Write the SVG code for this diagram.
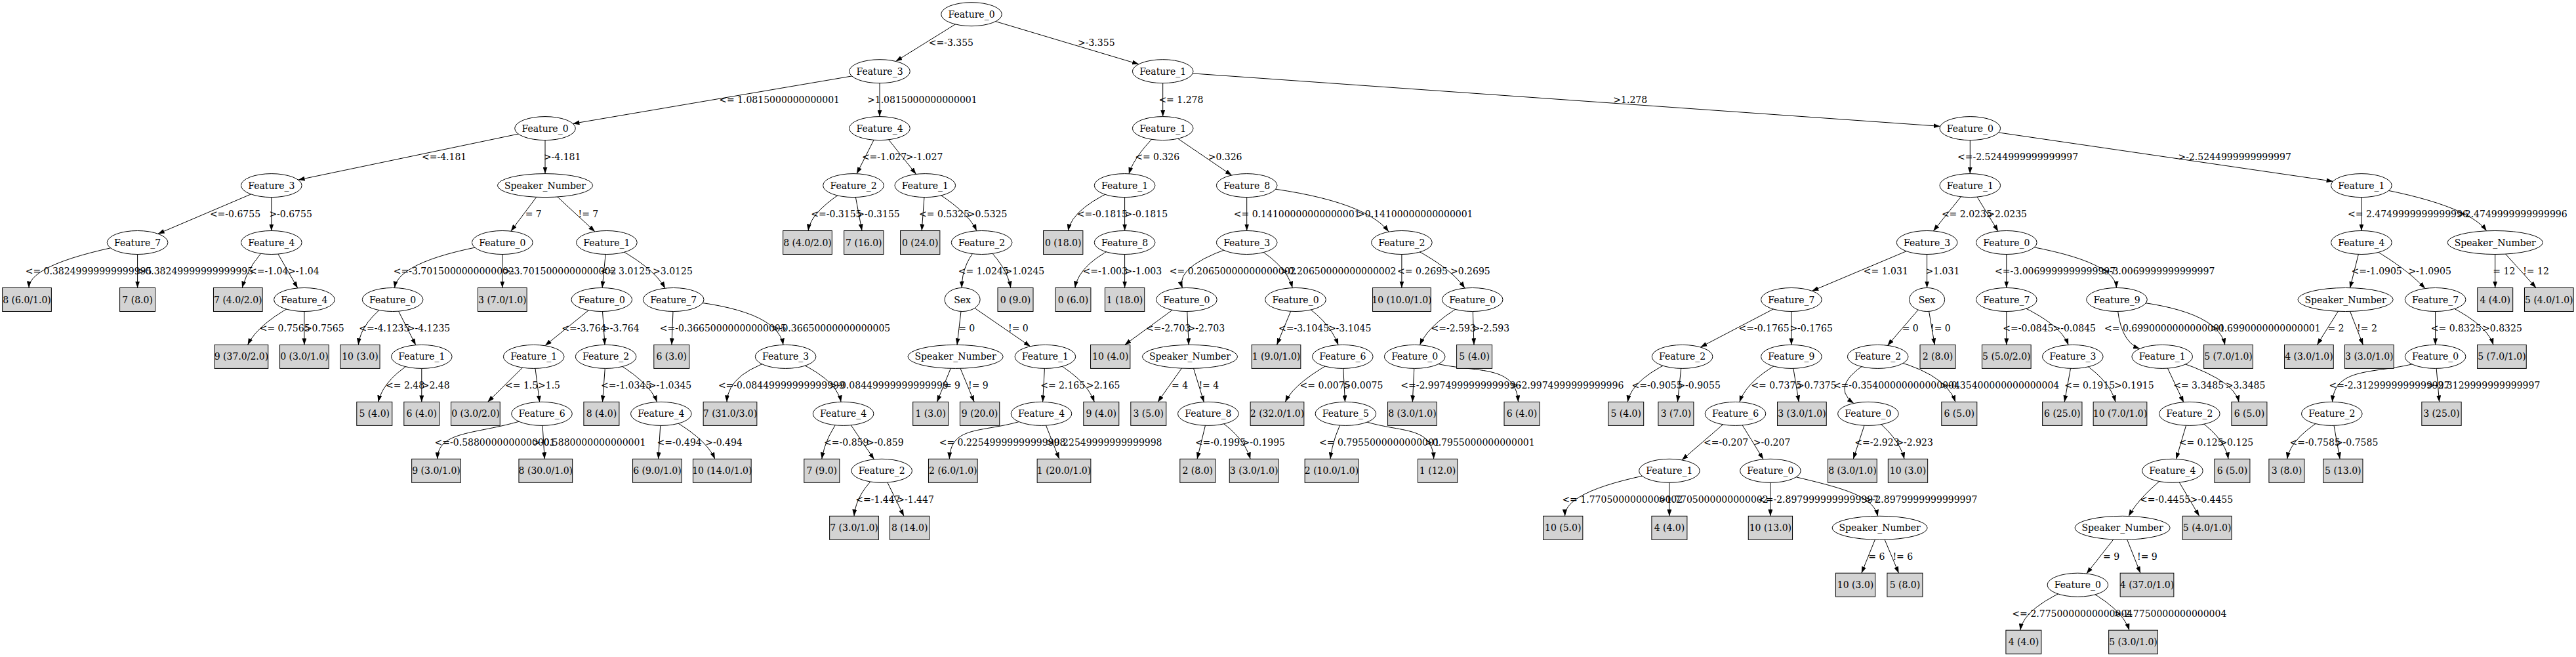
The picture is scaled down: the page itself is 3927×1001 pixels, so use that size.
<svg xmlns="http://www.w3.org/2000/svg" width="3927" height="1001" viewBox="0 0 3927 1001">
<style>
text{font-family:"DejaVu Serif","Liberation Serif",serif;font-size:14px;fill:#000}
.nd ellipse{fill:#fff;stroke:#000;stroke-width:1}
.lf rect{fill:#d3d3d3;stroke:#000;stroke-width:1}
.nd text,.lf text{text-anchor:middle}
#edges path{fill:none;stroke:#000;stroke-width:1;marker-end:url(#arr)}
</style>
<defs><marker id="arr" markerWidth="10" markerHeight="7" refX="10" refY="3.5" orient="auto" markerUnits="userSpaceOnUse"><path d="M0,0 L10,3.5 L0,7 z" fill="#000"/></marker></defs>
<rect width="3927" height="1001" fill="#fff"/>
<g id="edges">
<path d="M1481,21.7 L1365.5,93.4"/>
<path d="M1481,21.7 L1736,97.8"/>
<path d="M1341,108.7 L873.4,188.4"/>
<path d="M1341,108.7 L1341,177.6"/>
<path d="M1772.7,108.7 L1772.7,177.6"/>
<path d="M1772.7,108.7 L2957.7,192.4"/>
<path d="M831,195.6 L454.6,274.1"/>
<path d="M831,195.6 L831,264.6"/>
<path d="M1341,195.6 L1306,264.8"/>
<path d="M1341,195.6 L1396.6,265.4"/>
<path d="M1772.7,195.6 Q1730,235 1720.9,265"/>
<path d="M1772.7,195.6 L1877.7,267"/>
<path d="M3003.3,195.6 L3003.3,264.6"/>
<path d="M3003.3,195.6 L3556.6,276.3"/>
<path d="M413.8,282.6 L240.8,356.2"/>
<path d="M413.8,282.6 L413.8,351.5"/>
<path d="M831,282.6 L778.8,352.2"/>
<path d="M831,282.6 L907,352.9"/>
<path d="M1301,282.6 Q1236,320 1232.1,351.5"/>
<path d="M1301,282.6 L1314,351.5"/>
<path d="M1410.3,282.6 L1405.2,351.5"/>
<path d="M1410.3,282.6 Q1475,320 1488.8,351.7"/>
<path d="M1714.6,282.6 Q1635,315 1628.3,351.5"/>
<path d="M1714.6,282.6 L1714.6,351.5"/>
<path d="M1900.7,282.6 L1900.7,351.5"/>
<path d="M1900.7,282.6 Q2078,302 2117,353"/>
<path d="M3003.3,282.6 L2947.2,352"/>
<path d="M3003.3,282.6 L3046.2,352.5"/>
<path d="M3599.9,282.6 L3599.9,351.5"/>
<path d="M3599.9,282.6 Q3760,310 3790.7,351.8"/>
<path d="M209.6,369.5 Q45,400 44,438.5"/>
<path d="M209.6,369.5 L209.6,438.5"/>
<path d="M413.8,369.5 Q380,400 369.1,438.5"/>
<path d="M413.8,369.5 L453.8,438.9"/>
<path d="M765.8,369.5 Q608,395 601.5,438.6"/>
<path d="M765.8,369.5 L765.8,438.5"/>
<path d="M924.9,369.5 L918.1,438.5"/>
<path d="M924.9,369.5 Q995,405 1014,439.2"/>
<path d="M1496.6,369.5 Q1466,400 1466.2,438.5"/>
<path d="M1496.6,369.5 Q1535,405 1540.8,438.5"/>
<path d="M1714.6,369.5 Q1645,400 1638.8,438.5"/>
<path d="M1714.6,369.5 L1714.6,438.5"/>
<path d="M1900.7,369.5 Q1790,402 1802.4,438.7"/>
<path d="M1900.7,369.5 Q1960,400 1970.3,438.6"/>
<path d="M2136.9,369.5 L2136.9,438.5"/>
<path d="M2136.9,369.5 Q2210,405 2233,439.1"/>
<path d="M2937.6,369.5 L2762.3,443.3"/>
<path d="M2937.6,369.5 L2937.6,438.5"/>
<path d="M3058.8,369.5 L3058.8,438.5"/>
<path d="M3058.8,369.5 Q3225,395 3226.4,438.5"/>
<path d="M3599.9,369.5 L3582.4,439"/>
<path d="M3599.9,369.5 Q3665,405 3696.9,439.5"/>
<path d="M3803.7,369.5 L3803.7,438.5"/>
<path d="M3803.7,369.5 L3866.2,438.5"/>
<path d="M463.9,456.5 Q395,490 377.6,525.4"/>
<path d="M463.9,456.5 L463.9,525.4"/>
<path d="M598.6,456.5 Q550,490 546.3,525.4"/>
<path d="M598.6,456.5 L633.8,525.8"/>
<path d="M917.3,456.5 L831,526.5"/>
<path d="M917.3,456.5 L922,525.4"/>
<path d="M1026.7,456.5 L1024,525.4"/>
<path d="M1026.7,456.5 Q1185,470 1194,525.5"/>
<path d="M1467.1,456.5 L1459,525.4"/>
<path d="M1467.1,456.5 L1570.7,527.8"/>
<path d="M1808.9,456.5 L1714.6,525.4"/>
<path d="M1808.9,456.5 L1812.2,525.4"/>
<path d="M1975,456.5 L1946.5,525.4"/>
<path d="M1975,456.5 Q2025,485 2040.2,525.6"/>
<path d="M2244.7,456.5 Q2180,490 2164.5,525.6"/>
<path d="M2244.7,456.5 L2247,525.4"/>
<path d="M2730.9,456.5 L2592.3,528.9"/>
<path d="M2730.9,456.5 L2730.9,525.4"/>
<path d="M2937.6,456.5 L2877.4,526.4"/>
<path d="M2937.6,456.5 L2949.3,525.4"/>
<path d="M3058.8,456.5 L3058.8,525.4"/>
<path d="M3058.8,456.5 Q3140,490 3153.2,525.6"/>
<path d="M3227,456.5 Q3230,520 3262,531.3"/>
<path d="M3227,456.5 Q3380,470 3391.9,525.4"/>
<path d="M3575.6,456.5 L3532.3,525.4"/>
<path d="M3575.6,456.5 L3602.4,525.4"/>
<path d="M3712.6,456.5 L3712.6,525.4"/>
<path d="M3712.6,456.5 Q3790,490 3801,525.4"/>
<path d="M642.8,543.4 Q585,575 576.6,612.4"/>
<path d="M642.8,543.4 L642.8,612.4"/>
<path d="M813.7,543.4 L743.4,612.4"/>
<path d="M813.7,543.4 L822.6,612.8"/>
<path d="M923.6,543.4 L918.5,612.4"/>
<path d="M923.6,543.4 Q990,580 1001.5,612.6"/>
<path d="M1197.6,543.4 Q1110,565 1108,612.4"/>
<path d="M1197.6,543.4 Q1275,575 1282.1,612.4"/>
<path d="M1456.6,543.4 L1428.4,612.4"/>
<path d="M1456.6,543.4 L1485.2,612.4"/>
<path d="M1593.4,543.4 L1589.6,612.4"/>
<path d="M1593.4,543.4 Q1655,575 1668.3,612.4"/>
<path d="M1814,543.4 L1765,612.4"/>
<path d="M1814,543.4 L1835.4,612.8"/>
<path d="M2046.8,543.4 Q1975,580 1959.3,612.4"/>
<path d="M2046.8,543.4 L2050.5,612.4"/>
<path d="M2156.7,543.4 L2153.3,612.4"/>
<path d="M2156.7,543.4 C2230,575 2310,545 2314.5,612.4"/>
<path d="M2564.6,543.4 Q2488,575 2481.2,612.4"/>
<path d="M2564.6,543.4 L2557.4,612.4"/>
<path d="M2730.9,543.4 Q2665,575 2651.8,612.6"/>
<path d="M2730.9,543.4 L2742.3,612.4"/>
<path d="M2862.7,543.4 Q2785,585 2825.9,614.5"/>
<path d="M2862.7,543.4 Q2965,565 2980.9,612.4"/>
<path d="M3159.8,543.4 L3147.2,612.4"/>
<path d="M3159.8,543.4 Q3215,575 3225,612.4"/>
<path d="M3296.2,543.4 L3329,613.3"/>
<path d="M3296.2,543.4 Q3405,575 3413.1,612.4"/>
<path d="M3712.6,543.4 C3640,575 3560,550 3555.5,612.4"/>
<path d="M3712.6,543.4 L3718.6,612.4"/>
<path d="M826,630.4 C740,665 668,650 666.8,699.3"/>
<path d="M826,630.4 L830.2,699.3"/>
<path d="M1007.8,630.4 L1003.6,699.3"/>
<path d="M1007.8,630.4 Q1075,665 1089.9,699.3"/>
<path d="M1285.6,630.4 Q1258,665 1252.8,699.3"/>
<path d="M1285.6,630.4 L1332.5,699.9"/>
<path d="M1587.5,630.4 C1510,665 1450,640 1447.3,699.3"/>
<path d="M1587.5,630.4 L1614.8,699.3"/>
<path d="M1841.8,630.4 L1825,699.3"/>
<path d="M1841.8,630.4 Q1895,660 1906.1,699.3"/>
<path d="M2051.4,630.4 Q2032,665 2028,699.3"/>
<path d="M2051.4,630.4 C2120,665 2183,640 2185.7,699.3"/>
<path d="M2645.5,630.4 L2563.9,700.9"/>
<path d="M2645.5,630.4 L2688.1,699.8"/>
<path d="M2847.9,630.4 L2825.2,699.3"/>
<path d="M2847.9,630.4 Q2895,665 2903,699.3"/>
<path d="M3337.8,630.4 L3317.4,699.6"/>
<path d="M3337.8,630.4 Q3392,665 3397,699.3"/>
<path d="M3554.8,630.4 Q3492,665 3486.7,699.3"/>
<path d="M3554.8,630.4 L3567.1,699.3"/>
<path d="M1344.2,717.3 Q1305,750 1302,786.3"/>
<path d="M1344.2,717.3 L1378,786.3"/>
<path d="M2544.9,717.3 Q2385,745 2385.6,786.3"/>
<path d="M2544.9,717.3 L2544.9,786.3"/>
<path d="M2698.9,717.3 L2698.9,786.3"/>
<path d="M2698.9,717.3 C2790,740 2855,750 2862.6,786.5"/>
<path d="M3311.9,717.3 Q3262,755 3245.1,786.5"/>
<path d="M3311.9,717.3 L3352.7,786.3"/>
<path d="M2865.6,804.3 L2837.8,873.2"/>
<path d="M2865.6,804.3 L2894.6,873.2"/>
<path d="M3235.6,804.3 L3180.9,874"/>
<path d="M3235.6,804.3 L3263,873.2"/>
<path d="M3167.4,891.2 Q3085,925 3079.8,960.2"/>
<path d="M3167.4,891.2 Q3235,925 3246,960.2"/>
</g>
<g id="edge-labels">
<text x="1415.7" y="70.2">&lt;=-3.355</text>
<text x="1643" y="70.2">&gt;-3.355</text>
<text x="1096.2" y="157.2">&lt;= 1.0815000000000001</text>
<text x="1322" y="157.2">&gt;1.0815000000000001</text>
<text x="1766.4" y="157.2">&lt;= 1.278</text>
<text x="2459.3" y="157.2">&gt;1.278</text>
<text x="643" y="244.1">&lt;=-4.181</text>
<text x="828.9" y="244.1">&gt;-4.181</text>
<text x="1313.9" y="244.1">&lt;=-1.027</text>
<text x="1380.8" y="244.1">&gt;-1.027</text>
<text x="1730.2" y="244.1">&lt;= 0.326</text>
<text x="1841.7" y="244.1">&gt;0.326</text>
<text x="2984" y="244.1">&lt;=-2.5244999999999997</text>
<text x="3320.5" y="244.1">&gt;-2.5244999999999997</text>
<text x="319.9" y="331.1">&lt;=-0.6755</text>
<text x="410.4" y="331.1">&gt;-0.6755</text>
<text x="800.7" y="331.1">= 7</text>
<text x="881.5" y="331.1">!= 7</text>
<text x="1236.3" y="331.1">&lt;=-0.3155</text>
<text x="1306.3" y="331.1">&gt;-0.3155</text>
<text x="1401" y="331.1">&lt;= 0.5325</text>
<text x="1474.7" y="331.1">&gt;0.5325</text>
<text x="1641.8" y="331.1">&lt;=-0.1815</text>
<text x="1714.6" y="331.1">&gt;-0.1815</text>
<text x="1880.8" y="331.1">&lt;= 0.14100000000000001</text>
<text x="2069" y="331.1">&gt;0.14100000000000001</text>
<text x="2959.9" y="331.1">&lt;= 2.0235</text>
<text x="3029.3" y="331.1">&gt;2.0235</text>
<text x="3579" y="331.1">&lt;= 2.4749999999999996</text>
<text x="3746" y="331.1">&gt;2.4749999999999996</text>
<text x="38.7" y="418">&lt;= 0.38249999999999995</text>
<text x="209.6" y="418">&gt;0.38249999999999995</text>
<text x="380" y="418">&lt;=-1.04</text>
<text x="439" y="418">&gt;-1.04</text>
<text x="599.8" y="418">&lt;=-3.7015000000000002</text>
<text x="767" y="418">&gt;-3.7015000000000002</text>
<text x="915.2" y="418">&lt;= 3.0125</text>
<text x="995.1" y="418">&gt;3.0125</text>
<text x="1460.8" y="418">&lt;= 1.0245</text>
<text x="1531.5" y="418">&gt;1.0245</text>
<text x="1650.6" y="418">&lt;=-1.003</text>
<text x="1714.6" y="418">&gt;-1.003</text>
<text x="1782.8" y="418">&lt;= 0.20650000000000002</text>
<text x="1952" y="418">&gt;0.20650000000000002</text>
<text x="2130.1" y="418">&lt;= 0.2695</text>
<text x="2211" y="418">&gt;0.2695</text>
<text x="2840.8" y="418">&lt;= 1.031</text>
<text x="2935.5" y="418">&gt;1.031</text>
<text x="3041.1" y="418">&lt;=-3.0069999999999997</text>
<text x="3204" y="418">&gt;-3.0069999999999997</text>
<text x="3584.6" y="418">&lt;=-1.0905</text>
<text x="3671.4" y="418">&gt;-1.0905</text>
<text x="3800.3" y="418">= 12</text>
<text x="3846.2" y="418">!= 12</text>
<text x="395.7" y="505">&lt;= 0.7565</text>
<text x="463.9" y="505">&gt;0.7565</text>
<text x="547.2" y="505">&lt;=-4.1235</text>
<text x="620.8" y="505">&gt;-4.1235</text>
<text x="856.2" y="505">&lt;=-3.764</text>
<text x="918.1" y="505">&gt;-3.764</text>
<text x="1005.7" y="505">&lt;=-0.36650000000000005</text>
<text x="1176" y="505">&gt;-0.36650000000000005</text>
<text x="1461.2" y="505">= 0</text>
<text x="1537" y="505">!= 0</text>
<text x="1747" y="505">&lt;=-2.703</text>
<text x="1810.6" y="505">&gt;-2.703</text>
<text x="1949" y="505">&lt;=-3.1045</text>
<text x="2024.9" y="505">&gt;-3.1045</text>
<text x="2181.5" y="505">&lt;=-2.593</text>
<text x="2244.6" y="505">&gt;-2.593</text>
<text x="2650.5" y="505">&lt;=-0.1765</text>
<text x="2728.4" y="505">&gt;-0.1765</text>
<text x="2899.7" y="505">= 0</text>
<text x="2943" y="505">!= 0</text>
<text x="3053.3" y="505">&lt;=-0.0845</text>
<text x="3129.5" y="505">&gt;-0.0845</text>
<text x="3208" y="505">&lt;= 0.6990000000000001</text>
<text x="3370" y="505">&gt;0.6990000000000001</text>
<text x="3548.4" y="505">= 2</text>
<text x="3593.1" y="505">!= 2</text>
<text x="3705.8" y="505">&lt;= 0.8325</text>
<text x="3784.1" y="505">&gt;0.8325</text>
<text x="588" y="591.9">&lt;= 2.48</text>
<text x="642.7" y="591.9">&gt;2.48</text>
<text x="770" y="591.9">&lt;= 1.5</text>
<text x="820" y="591.9">&gt;1.5</text>
<text x="916" y="591.9">&lt;=-1.0345</text>
<text x="988.8" y="591.9">&gt;-1.0345</text>
<text x="1094.9" y="591.9">&lt;=-0.08449999999999999</text>
<text x="1264.5" y="591.9">&gt;-0.08449999999999999</text>
<text x="1438.9" y="591.9">= 9</text>
<text x="1476" y="591.9">!= 9</text>
<text x="1586.2" y="591.9">&lt;= 2.165</text>
<text x="1655.7" y="591.9">&gt;2.165</text>
<text x="1786.1" y="591.9">= 4</text>
<text x="1827.4" y="591.9">!= 4</text>
<text x="1981.6" y="591.9">&lt;= 0.0075</text>
<text x="2047.7" y="591.9">&gt;0.0075</text>
<text x="2135.2" y="591.9">&lt;=-2.9974999999999996</text>
<text x="2303" y="591.9">&gt;-2.9974999999999996</text>
<text x="2487.5" y="591.9">&lt;=-0.9055</text>
<text x="2557.4" y="591.9">&gt;-0.9055</text>
<text x="2669.4" y="591.9">&lt;= 0.7375</text>
<text x="2738.9" y="591.9">&gt;0.7375</text>
<text x="2794.9" y="591.9">&lt;=-0.35400000000000004</text>
<text x="2958" y="591.9">&gt;-0.35400000000000004</text>
<text x="3147.2" y="591.9">&lt;= 0.1915</text>
<text x="3222.9" y="591.9">&gt;0.1915</text>
<text x="3313.2" y="591.9">&lt;= 3.3485</text>
<text x="3392.7" y="591.9">&gt;3.3485</text>
<text x="3550.5" y="591.9">&lt;=-2.3129999999999997</text>
<text x="3700" y="591.9">&gt;-2.3129999999999997</text>
<text x="662.6" y="678.9">&lt;=-0.5880000000000001</text>
<text x="812" y="678.9">&gt;-0.5880000000000001</text>
<text x="1001.5" y="678.9">&lt;=-0.494</text>
<text x="1075.2" y="678.9">&gt;-0.494</text>
<text x="1256.1" y="678.9">&lt;=-0.859</text>
<text x="1321" y="678.9">&gt;-0.859</text>
<text x="1431.7" y="678.9">&lt;= 0.22549999999999998</text>
<text x="1595" y="678.9">&gt;0.22549999999999998</text>
<text x="1821.9" y="678.9">&lt;=-0.1995</text>
<text x="1893.5" y="678.9">&gt;-0.1995</text>
<text x="2011" y="678.9">&lt;= 0.7955000000000001</text>
<text x="2172" y="678.9">&gt;0.7955000000000001</text>
<text x="2597" y="678.9">&lt;=-0.207</text>
<text x="2672.8" y="678.9">&gt;-0.207</text>
<text x="2827.3" y="678.9">&lt;=-2.923</text>
<text x="2890.4" y="678.9">&gt;-2.923</text>
<text x="3321.7" y="678.9">&lt;= 0.125</text>
<text x="3383.4" y="678.9">&gt;0.125</text>
<text x="3490.6" y="678.9">&lt;=-0.7585</text>
<text x="3559.9" y="678.9">&gt;-0.7585</text>
<text x="1304.2" y="765.8">&lt;=-1.447</text>
<text x="1367.3" y="765.8">&gt;-1.447</text>
<text x="2381.4" y="765.8">&lt;= 1.7705000000000002</text>
<text x="2528" y="765.8">&gt;1.7705000000000002</text>
<text x="2680" y="765.8">&lt;=-2.8979999999999997</text>
<text x="2842" y="765.8">&gt;-2.8979999999999997</text>
<text x="3262.1" y="765.8">&lt;=-0.4455</text>
<text x="3338.7" y="765.8">&gt;-0.4455</text>
<text x="2848.3" y="852.8">= 6</text>
<text x="2885.4" y="852.8">!= 6</text>
<text x="3206.1" y="852.8">= 9</text>
<text x="3258" y="852.8">!= 9</text>
<text x="3067.2" y="939.7">&lt;=-2.7750000000000004</text>
<text x="3222" y="939.7">&gt;-2.7750000000000004</text>
</g>
<g id="nodes">
<g id="n0" class="nd"><ellipse cx="1481" cy="21.7" rx="46.3" ry="18"/><text x="1481" y="26.7">Feature_0</text></g>
<g id="n1" class="nd"><ellipse cx="1341" cy="108.7" rx="46.3" ry="18"/><text x="1341" y="113.7">Feature_3</text></g>
<g id="n2" class="nd"><ellipse cx="1772.7" cy="108.7" rx="46.3" ry="18"/><text x="1772.7" y="113.7">Feature_1</text></g>
<g id="n3" class="nd"><ellipse cx="831" cy="195.6" rx="46.3" ry="18"/><text x="831" y="200.6">Feature_0</text></g>
<g id="n4" class="nd"><ellipse cx="1341" cy="195.6" rx="46.3" ry="18"/><text x="1341" y="200.6">Feature_4</text></g>
<g id="n5" class="nd"><ellipse cx="1772.7" cy="195.6" rx="46.3" ry="18"/><text x="1772.7" y="200.6">Feature_1</text></g>
<g id="n6" class="nd"><ellipse cx="3003.3" cy="195.6" rx="46.3" ry="18"/><text x="3003.3" y="200.6">Feature_0</text></g>
<g id="n7" class="nd"><ellipse cx="413.8" cy="282.6" rx="46.3" ry="18"/><text x="413.8" y="287.6">Feature_3</text></g>
<g id="n8" class="nd"><ellipse cx="831" cy="282.6" rx="72.6" ry="18"/><text x="831" y="287.6">Speaker_Number</text></g>
<g id="n9" class="nd"><ellipse cx="1301" cy="282.6" rx="46.3" ry="18"/><text x="1301" y="287.6">Feature_2</text></g>
<g id="n10" class="nd"><ellipse cx="1410.3" cy="282.6" rx="46.3" ry="18"/><text x="1410.3" y="287.6">Feature_1</text></g>
<g id="n11" class="nd"><ellipse cx="1714.6" cy="282.6" rx="46.3" ry="18"/><text x="1714.6" y="287.6">Feature_1</text></g>
<g id="n12" class="nd"><ellipse cx="1900.7" cy="282.6" rx="46.3" ry="18"/><text x="1900.7" y="287.6">Feature_8</text></g>
<g id="n13" class="nd"><ellipse cx="3003.3" cy="282.6" rx="46.3" ry="18"/><text x="3003.3" y="287.6">Feature_1</text></g>
<g id="n14" class="nd"><ellipse cx="3599.9" cy="282.6" rx="46.3" ry="18"/><text x="3599.9" y="287.6">Feature_1</text></g>
<g id="n15" class="nd"><ellipse cx="209.6" cy="369.5" rx="46.3" ry="18"/><text x="209.6" y="374.5">Feature_7</text></g>
<g id="n16" class="nd"><ellipse cx="413.8" cy="369.5" rx="46.3" ry="18"/><text x="413.8" y="374.5">Feature_4</text></g>
<g id="n17" class="nd"><ellipse cx="765.8" cy="369.5" rx="46.3" ry="18"/><text x="765.8" y="374.5">Feature_0</text></g>
<g id="n18" class="nd"><ellipse cx="924.9" cy="369.5" rx="46.3" ry="18"/><text x="924.9" y="374.5">Feature_1</text></g>
<g id="n19" class="lf"><rect x="1193.65" y="351.5" width="74.7" height="36"/><text x="1231" y="374.5">8 (4.0/2.0)</text></g>
<g id="n20" class="lf"><rect x="1286.65" y="351.5" width="60.3" height="36"/><text x="1316.8" y="374.5">7 (16.0)</text></g>
<g id="n21" class="lf"><rect x="1372.55" y="351.5" width="60.3" height="36"/><text x="1402.7" y="374.5">0 (24.0)</text></g>
<g id="n22" class="nd"><ellipse cx="1496.6" cy="369.5" rx="46.3" ry="18"/><text x="1496.6" y="374.5">Feature_2</text></g>
<g id="n23" class="lf"><rect x="1590.55" y="351.5" width="60.3" height="36"/><text x="1620.7" y="374.5">0 (18.0)</text></g>
<g id="n24" class="nd"><ellipse cx="1714.6" cy="369.5" rx="46.3" ry="18"/><text x="1714.6" y="374.5">Feature_8</text></g>
<g id="n25" class="nd"><ellipse cx="1900.7" cy="369.5" rx="46.3" ry="18"/><text x="1900.7" y="374.5">Feature_3</text></g>
<g id="n26" class="nd"><ellipse cx="2136.9" cy="369.5" rx="46.3" ry="18"/><text x="2136.9" y="374.5">Feature_2</text></g>
<g id="n27" class="nd"><ellipse cx="2937.6" cy="369.5" rx="46.3" ry="18"/><text x="2937.6" y="374.5">Feature_3</text></g>
<g id="n28" class="nd"><ellipse cx="3058.8" cy="369.5" rx="46.3" ry="18"/><text x="3058.8" y="374.5">Feature_0</text></g>
<g id="n29" class="nd"><ellipse cx="3599.9" cy="369.5" rx="46.3" ry="18"/><text x="3599.9" y="374.5">Feature_4</text></g>
<g id="n30" class="nd"><ellipse cx="3803.7" cy="369.5" rx="72.6" ry="18"/><text x="3803.7" y="374.5">Speaker_Number</text></g>
<g id="n31" class="lf"><rect x="3.65" y="438.5" width="74.7" height="36"/><text x="41" y="461.5">8 (6.0/1.0)</text></g>
<g id="n32" class="lf"><rect x="182.6" y="438.5" width="54" height="36"/><text x="209.6" y="461.5">7 (8.0)</text></g>
<g id="n33" class="lf"><rect x="325.45" y="438.5" width="74.7" height="36"/><text x="362.8" y="461.5">7 (4.0/2.0)</text></g>
<g id="n34" class="nd"><ellipse cx="463.9" cy="456.5" rx="46.3" ry="18"/><text x="463.9" y="461.5">Feature_4</text></g>
<g id="n35" class="nd"><ellipse cx="598.6" cy="456.5" rx="46.3" ry="18"/><text x="598.6" y="461.5">Feature_0</text></g>
<g id="n36" class="lf"><rect x="728.45" y="438.5" width="74.7" height="36"/><text x="765.8" y="461.5">3 (7.0/1.0)</text></g>
<g id="n37" class="nd"><ellipse cx="917.3" cy="456.5" rx="46.3" ry="18"/><text x="917.3" y="461.5">Feature_0</text></g>
<g id="n38" class="nd"><ellipse cx="1026.7" cy="456.5" rx="46.3" ry="18"/><text x="1026.7" y="461.5">Feature_7</text></g>
<g id="n39" class="nd"><ellipse cx="1467.1" cy="456.5" rx="27" ry="18"/><text x="1467.1" y="461.5">Sex</text></g>
<g id="n40" class="lf"><rect x="1521" y="438.5" width="54" height="36"/><text x="1548" y="461.5">0 (9.0)</text></g>
<g id="n41" class="lf"><rect x="1608.9" y="438.5" width="54" height="36"/><text x="1635.9" y="461.5">0 (6.0)</text></g>
<g id="n42" class="lf"><rect x="1684.45" y="438.5" width="60.3" height="36"/><text x="1714.6" y="461.5">1 (18.0)</text></g>
<g id="n43" class="nd"><ellipse cx="1808.9" cy="456.5" rx="46.3" ry="18"/><text x="1808.9" y="461.5">Feature_0</text></g>
<g id="n44" class="nd"><ellipse cx="1975" cy="456.5" rx="46.3" ry="18"/><text x="1975" y="461.5">Feature_0</text></g>
<g id="n45" class="lf"><rect x="2092.55" y="438.5" width="88.7" height="36"/><text x="2136.9" y="461.5">10 (10.0/1.0)</text></g>
<g id="n46" class="nd"><ellipse cx="2244.7" cy="456.5" rx="46.3" ry="18"/><text x="2244.7" y="461.5">Feature_0</text></g>
<g id="n47" class="nd"><ellipse cx="2730.9" cy="456.5" rx="46.3" ry="18"/><text x="2730.9" y="461.5">Feature_7</text></g>
<g id="n48" class="nd"><ellipse cx="2937.6" cy="456.5" rx="27" ry="18"/><text x="2937.6" y="461.5">Sex</text></g>
<g id="n49" class="nd"><ellipse cx="3058.8" cy="456.5" rx="46.3" ry="18"/><text x="3058.8" y="461.5">Feature_7</text></g>
<g id="n50" class="nd"><ellipse cx="3227" cy="456.5" rx="46.3" ry="18"/><text x="3227" y="461.5">Feature_9</text></g>
<g id="n51" class="nd"><ellipse cx="3575.6" cy="456.5" rx="72.6" ry="18"/><text x="3575.6" y="461.5">Speaker_Number</text></g>
<g id="n52" class="nd"><ellipse cx="3712.6" cy="456.5" rx="46.3" ry="18"/><text x="3712.6" y="461.5">Feature_7</text></g>
<g id="n53" class="lf"><rect x="3776.7" y="438.5" width="54" height="36"/><text x="3803.7" y="461.5">4 (4.0)</text></g>
<g id="n54" class="lf"><rect x="3848.45" y="438.5" width="74.7" height="36"/><text x="3885.8" y="461.5">5 (4.0/1.0)</text></g>
<g id="n55" class="lf"><rect x="327.05" y="525.4" width="81.7" height="36"/><text x="367.9" y="548.4">9 (37.0/2.0)</text></g>
<g id="n56" class="lf"><rect x="426.55" y="525.4" width="74.7" height="36"/><text x="463.9" y="548.4">0 (3.0/1.0)</text></g>
<g id="n57" class="lf"><rect x="518.75" y="525.4" width="60.3" height="36"/><text x="548.9" y="548.4">10 (3.0)</text></g>
<g id="n58" class="nd"><ellipse cx="642.8" cy="543.4" rx="46.3" ry="18"/><text x="642.8" y="548.4">Feature_1</text></g>
<g id="n59" class="nd"><ellipse cx="813.7" cy="543.4" rx="46.3" ry="18"/><text x="813.7" y="548.4">Feature_1</text></g>
<g id="n60" class="nd"><ellipse cx="923.6" cy="543.4" rx="46.3" ry="18"/><text x="923.6" y="548.4">Feature_2</text></g>
<g id="n61" class="lf"><rect x="996.8" y="525.4" width="54" height="36"/><text x="1023.8" y="548.4">6 (3.0)</text></g>
<g id="n62" class="nd"><ellipse cx="1197.6" cy="543.4" rx="46.3" ry="18"/><text x="1197.6" y="548.4">Feature_3</text></g>
<g id="n63" class="nd"><ellipse cx="1456.6" cy="543.4" rx="72.6" ry="18"/><text x="1456.6" y="548.4">Speaker_Number</text></g>
<g id="n64" class="nd"><ellipse cx="1593.4" cy="543.4" rx="46.3" ry="18"/><text x="1593.4" y="548.4">Feature_1</text></g>
<g id="n65" class="lf"><rect x="1662.55" y="525.4" width="60.3" height="36"/><text x="1692.7" y="548.4">10 (4.0)</text></g>
<g id="n66" class="nd"><ellipse cx="1814" cy="543.4" rx="72.6" ry="18"/><text x="1814" y="548.4">Speaker_Number</text></g>
<g id="n67" class="lf"><rect x="1908.15" y="525.4" width="74.7" height="36"/><text x="1945.5" y="548.4">1 (9.0/1.0)</text></g>
<g id="n68" class="nd"><ellipse cx="2046.8" cy="543.4" rx="46.3" ry="18"/><text x="2046.8" y="548.4">Feature_6</text></g>
<g id="n69" class="nd"><ellipse cx="2156.7" cy="543.4" rx="46.3" ry="18"/><text x="2156.7" y="548.4">Feature_0</text></g>
<g id="n70" class="lf"><rect x="2220.6" y="525.4" width="54" height="36"/><text x="2247.6" y="548.4">5 (4.0)</text></g>
<g id="n71" class="nd"><ellipse cx="2564.6" cy="543.4" rx="46.3" ry="18"/><text x="2564.6" y="548.4">Feature_2</text></g>
<g id="n72" class="nd"><ellipse cx="2730.9" cy="543.4" rx="46.3" ry="18"/><text x="2730.9" y="548.4">Feature_9</text></g>
<g id="n73" class="nd"><ellipse cx="2862.7" cy="543.4" rx="46.3" ry="18"/><text x="2862.7" y="548.4">Feature_2</text></g>
<g id="n74" class="lf"><rect x="2927" y="525.4" width="54" height="36"/><text x="2954" y="548.4">2 (8.0)</text></g>
<g id="n75" class="lf"><rect x="3021.45" y="525.4" width="74.7" height="36"/><text x="3058.8" y="548.4">5 (5.0/2.0)</text></g>
<g id="n76" class="nd"><ellipse cx="3159.8" cy="543.4" rx="46.3" ry="18"/><text x="3159.8" y="548.4">Feature_3</text></g>
<g id="n77" class="nd"><ellipse cx="3296.2" cy="543.4" rx="46.3" ry="18"/><text x="3296.2" y="548.4">Feature_1</text></g>
<g id="n78" class="lf"><rect x="3359.65" y="525.4" width="74.7" height="36"/><text x="3397" y="548.4">5 (7.0/1.0)</text></g>
<g id="n79" class="lf"><rect x="3482.55" y="525.4" width="74.7" height="36"/><text x="3519.9" y="548.4">4 (3.0/1.0)</text></g>
<g id="n80" class="lf"><rect x="3574.45" y="525.4" width="74.7" height="36"/><text x="3611.8" y="548.4">3 (3.0/1.0)</text></g>
<g id="n81" class="nd"><ellipse cx="3712.6" cy="543.4" rx="46.3" ry="18"/><text x="3712.6" y="548.4">Feature_0</text></g>
<g id="n82" class="lf"><rect x="3776.55" y="525.4" width="74.7" height="36"/><text x="3813.9" y="548.4">5 (7.0/1.0)</text></g>
<g id="n83" class="lf"><rect x="543.8" y="612.4" width="54" height="36"/><text x="570.8" y="635.4">5 (4.0)</text></g>
<g id="n84" class="lf"><rect x="615.8" y="612.4" width="54" height="36"/><text x="642.8" y="635.4">6 (4.0)</text></g>
<g id="n85" class="lf"><rect x="687.55" y="612.4" width="74.7" height="36"/><text x="724.9" y="635.4">0 (3.0/2.0)</text></g>
<g id="n86" class="nd"><ellipse cx="826" cy="630.4" rx="46.3" ry="18"/><text x="826" y="635.4">Feature_6</text></g>
<g id="n87" class="lf"><rect x="889.9" y="612.4" width="54" height="36"/><text x="916.9" y="635.4">8 (4.0)</text></g>
<g id="n88" class="nd"><ellipse cx="1007.8" cy="630.4" rx="46.3" ry="18"/><text x="1007.8" y="635.4">Feature_4</text></g>
<g id="n89" class="lf"><rect x="1072.15" y="612.4" width="81.7" height="36"/><text x="1113" y="635.4">7 (31.0/3.0)</text></g>
<g id="n90" class="nd"><ellipse cx="1285.6" cy="630.4" rx="46.3" ry="18"/><text x="1285.6" y="635.4">Feature_4</text></g>
<g id="n91" class="lf"><rect x="1391.7" y="612.4" width="54" height="36"/><text x="1418.7" y="635.4">1 (3.0)</text></g>
<g id="n92" class="lf"><rect x="1463.45" y="612.4" width="60.3" height="36"/><text x="1493.6" y="635.4">9 (20.0)</text></g>
<g id="n93" class="nd"><ellipse cx="1587.5" cy="630.4" rx="46.3" ry="18"/><text x="1587.5" y="635.4">Feature_4</text></g>
<g id="n94" class="lf"><rect x="1651.8" y="612.4" width="54" height="36"/><text x="1678.8" y="635.4">9 (4.0)</text></g>
<g id="n95" class="lf"><rect x="1723.8" y="612.4" width="54" height="36"/><text x="1750.8" y="635.4">3 (5.0)</text></g>
<g id="n96" class="nd"><ellipse cx="1841.8" cy="630.4" rx="46.3" ry="18"/><text x="1841.8" y="635.4">Feature_8</text></g>
<g id="n97" class="lf"><rect x="1906.15" y="612.4" width="81.7" height="36"/><text x="1947" y="635.4">2 (32.0/1.0)</text></g>
<g id="n98" class="nd"><ellipse cx="2051.4" cy="630.4" rx="46.3" ry="18"/><text x="2051.4" y="635.4">Feature_5</text></g>
<g id="n99" class="lf"><rect x="2115.55" y="612.4" width="74.7" height="36"/><text x="2152.9" y="635.4">8 (3.0/1.0)</text></g>
<g id="n100" class="lf"><rect x="2293" y="612.4" width="54" height="36"/><text x="2320" y="635.4">6 (4.0)</text></g>
<g id="n101" class="lf"><rect x="2451.7" y="612.4" width="54" height="36"/><text x="2478.7" y="635.4">5 (4.0)</text></g>
<g id="n102" class="lf"><rect x="2527.9" y="612.4" width="54" height="36"/><text x="2554.9" y="635.4">3 (7.0)</text></g>
<g id="n103" class="nd"><ellipse cx="2645.5" cy="630.4" rx="46.3" ry="18"/><text x="2645.5" y="635.4">Feature_6</text></g>
<g id="n104" class="lf"><rect x="2709.55" y="612.4" width="74.7" height="36"/><text x="2746.9" y="635.4">3 (3.0/1.0)</text></g>
<g id="n105" class="nd"><ellipse cx="2847.9" cy="630.4" rx="46.3" ry="18"/><text x="2847.9" y="635.4">Feature_0</text></g>
<g id="n106" class="lf"><rect x="2959.8" y="612.4" width="54" height="36"/><text x="2986.8" y="635.4">6 (5.0)</text></g>
<g id="n107" class="lf"><rect x="3113.65" y="612.4" width="60.3" height="36"/><text x="3143.8" y="635.4">6 (25.0)</text></g>
<g id="n108" class="lf"><rect x="3191.15" y="612.4" width="81.7" height="36"/><text x="3232" y="635.4">10 (7.0/1.0)</text></g>
<g id="n109" class="nd"><ellipse cx="3337.8" cy="630.4" rx="46.3" ry="18"/><text x="3337.8" y="635.4">Feature_2</text></g>
<g id="n110" class="lf"><rect x="3401.9" y="612.4" width="54" height="36"/><text x="3428.9" y="635.4">6 (5.0)</text></g>
<g id="n111" class="nd"><ellipse cx="3554.8" cy="630.4" rx="46.3" ry="18"/><text x="3554.8" y="635.4">Feature_2</text></g>
<g id="n112" class="lf"><rect x="3691.85" y="612.4" width="60.3" height="36"/><text x="3722" y="635.4">3 (25.0)</text></g>
<g id="n113" class="lf"><rect x="627.65" y="699.3" width="74.7" height="36"/><text x="665" y="722.3">9 (3.0/1.0)</text></g>
<g id="n114" class="lf"><rect x="790.95" y="699.3" width="81.7" height="36"/><text x="831.8" y="722.3">8 (30.0/1.0)</text></g>
<g id="n115" class="lf"><rect x="964.55" y="699.3" width="74.7" height="36"/><text x="1001.9" y="722.3">6 (9.0/1.0)</text></g>
<g id="n116" class="lf"><rect x="1056.45" y="699.3" width="88.7" height="36"/><text x="1100.8" y="722.3">10 (14.0/1.0)</text></g>
<g id="n117" class="lf"><rect x="1225.8" y="699.3" width="54" height="36"/><text x="1252.8" y="722.3">7 (9.0)</text></g>
<g id="n118" class="nd"><ellipse cx="1344.2" cy="717.3" rx="46.3" ry="18"/><text x="1344.2" y="722.3">Feature_2</text></g>
<g id="n119" class="lf"><rect x="1415.45" y="699.3" width="74.7" height="36"/><text x="1452.8" y="722.3">2 (6.0/1.0)</text></g>
<g id="n120" class="lf"><rect x="1581.15" y="699.3" width="81.7" height="36"/><text x="1622" y="722.3">1 (20.0/1.0)</text></g>
<g id="n121" class="lf"><rect x="1798.8" y="699.3" width="54" height="36"/><text x="1825.8" y="722.3">2 (8.0)</text></g>
<g id="n122" class="lf"><rect x="1874.25" y="699.3" width="74.7" height="36"/><text x="1911.6" y="722.3">3 (3.0/1.0)</text></g>
<g id="n123" class="lf"><rect x="1989.15" y="699.3" width="81.7" height="36"/><text x="2030" y="722.3">2 (10.0/1.0)</text></g>
<g id="n124" class="lf"><rect x="2161.45" y="699.3" width="60.3" height="36"/><text x="2191.6" y="722.3">1 (12.0)</text></g>
<g id="n125" class="nd"><ellipse cx="2544.9" cy="717.3" rx="46.3" ry="18"/><text x="2544.9" y="722.3">Feature_1</text></g>
<g id="n126" class="nd"><ellipse cx="2698.9" cy="717.3" rx="46.3" ry="18"/><text x="2698.9" y="722.3">Feature_0</text></g>
<g id="n127" class="lf"><rect x="2786.55" y="699.3" width="74.7" height="36"/><text x="2823.9" y="722.3">8 (3.0/1.0)</text></g>
<g id="n128" class="lf"><rect x="2878.35" y="699.3" width="60.3" height="36"/><text x="2908.5" y="722.3">10 (3.0)</text></g>
<g id="n129" class="nd"><ellipse cx="3311.9" cy="717.3" rx="46.3" ry="18"/><text x="3311.9" y="722.3">Feature_4</text></g>
<g id="n130" class="lf"><rect x="3375.9" y="699.3" width="54" height="36"/><text x="3402.9" y="722.3">6 (5.0)</text></g>
<g id="n131" class="lf"><rect x="3458.9" y="699.3" width="54" height="36"/><text x="3485.9" y="722.3">3 (8.0)</text></g>
<g id="n132" class="lf"><rect x="3541.65" y="699.3" width="60.3" height="36"/><text x="3571.8" y="722.3">5 (13.0)</text></g>
<g id="n133" class="lf"><rect x="1264.65" y="786.3" width="74.7" height="36"/><text x="1302" y="809.3">7 (3.0/1.0)</text></g>
<g id="n134" class="lf"><rect x="1356.55" y="786.3" width="60.3" height="36"/><text x="1386.7" y="809.3">8 (14.0)</text></g>
<g id="n135" class="lf"><rect x="2352.55" y="786.3" width="60.3" height="36"/><text x="2382.7" y="809.3">10 (5.0)</text></g>
<g id="n136" class="lf"><rect x="2517.9" y="786.3" width="54" height="36"/><text x="2544.9" y="809.3">4 (4.0)</text></g>
<g id="n137" class="lf"><rect x="2665.25" y="786.3" width="67.3" height="36"/><text x="2698.9" y="809.3">10 (13.0)</text></g>
<g id="n138" class="nd"><ellipse cx="2865.6" cy="804.3" rx="72.6" ry="18"/><text x="2865.6" y="809.3">Speaker_Number</text></g>
<g id="n139" class="nd"><ellipse cx="3235.6" cy="804.3" rx="72.6" ry="18"/><text x="3235.6" y="809.3">Speaker_Number</text></g>
<g id="n140" class="lf"><rect x="3327.25" y="786.3" width="74.7" height="36"/><text x="3364.6" y="809.3">5 (4.0/1.0)</text></g>
<g id="n141" class="lf"><rect x="2798.45" y="873.2" width="60.3" height="36"/><text x="2828.6" y="896.2">10 (3.0)</text></g>
<g id="n142" class="lf"><rect x="2876.9" y="873.2" width="54" height="36"/><text x="2903.9" y="896.2">5 (8.0)</text></g>
<g id="n143" class="nd"><ellipse cx="3167.4" cy="891.2" rx="46.3" ry="18"/><text x="3167.4" y="896.2">Feature_0</text></g>
<g id="n144" class="lf"><rect x="3232.15" y="873.2" width="81.7" height="36"/><text x="3273" y="896.2">4 (37.0/1.0)</text></g>
<g id="n145" class="lf"><rect x="3057.9" y="960.2" width="54" height="36"/><text x="3084.9" y="983.2">4 (4.0)</text></g>
<g id="n146" class="lf"><rect x="3214.65" y="960.2" width="74.7" height="36"/><text x="3252" y="983.2">5 (3.0/1.0)</text></g>
</g>
</svg>
